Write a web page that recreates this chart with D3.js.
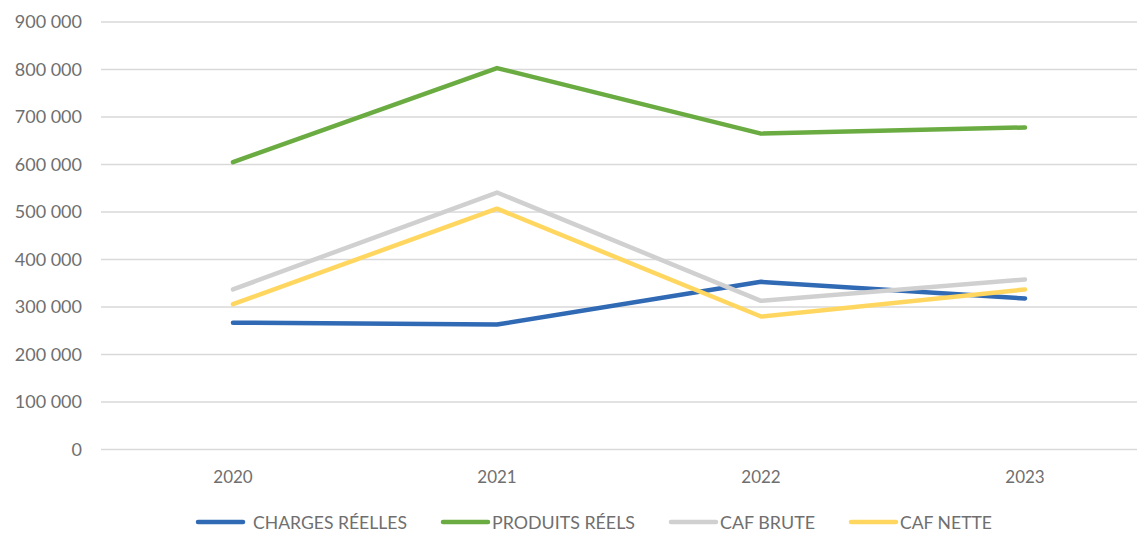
<!DOCTYPE html>
<html><head><meta charset="utf-8">
<script src="https://cdn.jsdelivr.net/npm/d3@7"></script>
<style>body{margin:0;background:#fff;overflow:hidden}</style>
</head><body>
<svg id="c" width="1137" height="533"></svg>
<script>
const years = ["2020", "2021", "2022", "2023"];
const charges = [267000, 263000, 353000, 318000];
const produits = [605000, 803000, 665000, 678000];
const cafBrute = [337000, 541000, 313000, 358000];
const cafNette = [306000, 507000, 280000, 337000];
const seriesNames = ["CHARGES RÉELLES", "PRODUITS RÉELS", "CAF BRUTE", "CAF NETTE"];
const seriesColors = ["#3069b4", "#6aac41", "#d0d0d0", "#ffd760"];
const yTicks = [0, 100000, 200000, 300000, 400000, 500000, 600000, 700000, 800000, 900000];

const series = [charges, produits, cafBrute, cafNette].map((v, i) => ({name: seriesNames[i], color: seriesColors[i], values: v}));

const svg = d3.select("#c");
const mLeft = 101, mRight = 1157, mTop = 22, mBottom = 449.5;
const x = d3.scaleBand().domain(years).range([mLeft, mRight]);
const y = d3.scaleLinear().domain([0, 900000]).range([mBottom, mTop]);
const fmt = v => d3.format(",")(v).replace(/,/g, " ");
const font = "Lato, 'Open Sans', sans-serif";

// gridlines
svg.append("g").selectAll("line").data(yTicks).join("line")
  .attr("x1", mLeft).attr("x2", mRight)
  .attr("y1", d => y(d)).attr("y2", d => y(d))
  .attr("stroke", "#d9d9d9").attr("stroke-width", 1.3);

// y axis labels
const ya = svg.append("g").attr("transform", `translate(${mLeft},0)`)
  .call(d3.axisLeft(y).tickValues(yTicks).tickFormat(fmt).tickSize(0).tickPadding(19));
ya.select(".domain").remove();
ya.selectAll("text").attr("font-family", font).attr("font-size", 18).attr("fill", "#6f6f6f");

// x axis labels
const xa = svg.append("g").attr("transform", `translate(0,${mBottom})`)
  .call(d3.axisBottom(x).tickSize(0).tickPadding(21));
xa.select(".domain").remove();
xa.selectAll("text").attr("font-family", font).attr("font-size", 17).attr("fill", "#6f6f6f");

// lines
const line = d3.line().x((d, i) => x(years[i]) + x.bandwidth() / 2).y(d => y(d));
svg.append("g").selectAll("path").data(series).join("path")
  .attr("d", d => line(d.values))
  .attr("fill", "none").attr("stroke", d => d.color)
  .attr("stroke-width", 4.5).attr("stroke-linecap", "round").attr("stroke-linejoin", "round");

// legend
const legSample = [198, 443, 671, 851];
const legText = [253, 492, 720, 900];
const legW = [154, 143, 95, 92];
const lg = svg.append("g").selectAll("g").data(series).join("g");
lg.append("line").attr("x1", (d, i) => legSample[i]).attr("x2", (d, i) => legSample[i] + 45)
  .attr("y1", 522).attr("y2", 522)
  .attr("stroke", d => d.color).attr("stroke-width", 4.5).attr("stroke-linecap", "round");
lg.append("text").attr("x", (d, i) => legText[i]).attr("y", 528.5).text(d => d.name)
  .attr("font-family", font).attr("font-size", 17.5).attr("fill", "#6f6f6f")
  .attr("textLength", (d, i) => legW[i]).attr("lengthAdjust", "spacingAndGlyphs");
</script>
</body></html>
